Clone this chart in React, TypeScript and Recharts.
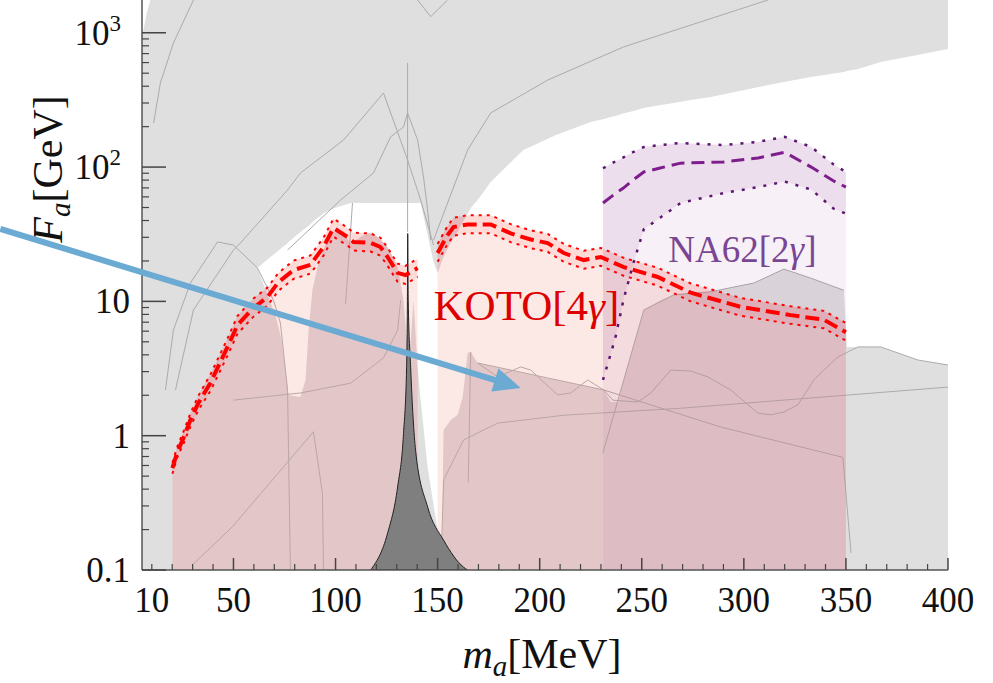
import {
  Area,
  CartesianGrid,
  ComposedChart,
  Label,
  Line,
  ReferenceDot,
  ReferenceLine,
  XAxis,
  YAxis,
} from "recharts";

const FONT = '"Liberation Serif", "Times New Roman", serif';
const F_FLOOR = 0.1;
const F_TOP = 1754;

// axis ticks
const xTicks = [10, 20, 30, 40, 50, 60, 70, 80, 90, 100, 110, 120, 130, 140, 150, 160, 170, 180, 190, 200, 210, 220, 230, 240, 250, 260, 270, 280, 290, 300, 310, 320, 330, 340, 350, 360, 370, 380, 390, 400];
const xLabeled = [10, 50, 100, 150, 200, 250, 300, 350, 400];
const yTicks = [0.1, 0.2, 0.3, 0.4, 0.5, 0.6, 0.7, 0.8, 0.9, 1, 2, 3, 4, 5, 6, 7, 8, 9, 10, 20, 30, 40, 50, 60, 70, 80, 90, 100, 200, 300, 400, 500, 600, 700, 800, 900, 1000];
const yMajor = [0.1, 1, 10, 100, 1000];

// KOTO[4gamma] projection, below the pion pole
const kotoMassLow = [20.1, 22.5, 25.5, 28.9, 32.8, 38.7, 47.1, 52, 59.8, 66.7, 72, 79.4, 87.7, 94.1, 99, 105.9, 108.8, 117.2, 122, 125.5, 130.4, 134.3, 140.2];
const kotoCentralLow = [0.574, 0.756, 0.96, 1.31, 1.75, 2.47, 4.58, 6.67, 8.93, 10.8, 13.9, 17.1, 18.7, 25.4, 35.2, 30.2, 27.7, 27.3, 25.4, 21.4, 16.3, 15.7, 17.7];
const kotoUpperLow = [0.63, 0.83, 1.07, 1.47, 1.98, 2.85, 5.3, 7.8, 10.5, 12.7, 16.3, 20.1, 22, 29.8, 41.3, 35.4, 32.5, 32, 29.8, 25.1, 19.1, 18.4, 20.8];
const kotoLowerLow = [0.52, 0.69, 0.87, 1.17, 1.55, 2.15, 3.95, 5.75, 7.7, 9.3, 12, 14.7, 16.1, 21.9, 30.3, 26, 23.9, 23.5, 21.9, 18.4, 14, 13.5, 15.2];

// KOTO[4gamma] projection, above the pion pole
const kotoMassHigh = [150, 154.9, 157.8, 164.7, 176, 185.8, 195.6, 203.9, 211.8, 221.6, 229.9, 241.2, 257.8, 274, 298.5, 323, 339.2, 350];
const kotoCentralHigh = [22.9, 31.2, 35.8, 37.4, 37.4, 32.1, 28.9, 27.2, 22.9, 20.3, 21.4, 18, 15.2, 11.6, 9.1, 7.9, 7.3, 5.9];
const kotoUpperHigh = [26.8, 36.5, 41.9, 43.8, 43.8, 37.6, 33.8, 31.8, 26.8, 23.8, 25, 21.1, 17.8, 13.6, 10.6, 9.2, 8.5, 6.9];
const kotoLowerHigh = [19.7, 26.8, 30.8, 32.2, 32.2, 27.6, 24.9, 23.4, 19.7, 17.5, 18.4, 15.5, 13.1, 10, 7.8, 6.8, 6.3, 5.1];

// NA62[2gamma]
const na62Mass = [231, 237, 241, 246, 251, 259, 269, 290, 307, 320, 333, 344, 350];
const na62Central = [54, 63.5, 69.8, 80.7, 92, 98.4, 107, 109, 117, 129, 100, 78.7, 71];
const na62Upper = [98, 110, 118, 130, 141, 146, 151, 146, 154, 168, 141, 104.5, 92];
const na62Lower = [2.6, 5.3, 10.2, 19.5, 34.5, 42, 54, 64, 71, 78, 68, 49, 45];

// unconstrained window: [mass, lower edge, upper edge]
const allowedWindow = [
  [61.8, 17.7, 17.7], [65.7, 12.2, 20.0], [70.6, 7.9, 22.9], [73.5, 5.2, 25.0],
  [75.5, 3.1, 26.3], [77, 2.0, 27.7], [82.8, 1.94, 32.9], [85.3, 2.6, 35.2],
  [86.8, 6.1, 36.4], [88.7, 12.2, 39.0], [91.7, 19.7, 42.5], [95.1, 26.3, 46.3],
  [101, 35.2, 50.5], [107.4, 27.2, 54], [113, 30.7, 54], [118, 32.9, 54],
  [125.5, 25.4, 54], [130.4, 18.0, 54], [133.3, 10.2, 54], [135.3, 4.35, 54],
  [136.8, 5, 54], [138.2, 10.2, 54], [140.2, 3.25, 54], [141.7, 1.84, 54],
  [145.1, 0.585, 31.2], [148, 0.305, 19.7], [150, 0.2, 16.3], [150.5, 0.1, 17],
  [152, 0.1, 19.7], [152.9, 1.1, 21.4], [156.4, 1.31, 27.2], [159.8, 1.43, 32.9],
  [162.3, 1.94, 39.0], [164.7, 4.13, 44.8], [166.2, 4.2, 49.6], [169.6, 3.48, 56.9],
  [176, 3.3, 77.5], [192, 2.93, 134], [208, 2.6, 173], [225, 2.3, 217],
  [231.4, 2.19, 228], [234.8, 1.78, 236], [238.7, 1.78, 244], [240.2, 2.3, 249],
  [246, 4.74, 262], [251, 8.63, 275], [259.3, 10.2, 290], [265.7, 11.2, 300],
  [274, 11.6, 316], [283.8, 11.8, 333], [304.9, 13.7, 388], [319.6, 17.4, 430],
  [332.8, 14.9, 469], [349, 12.1, 511], [350.5, 4.58, 519], [355.9, 4.58, 538],
  [367, 4.58, 606], [385, 3.66, 683], [400, 3.36, 758],
];
const allowedCorner = [[5.2, 950, 1754], [5.9, 1050, 1754], [7.5, 1400, 1754], [9.3, 1754, 1754]];

// pi0 pole
const pionPole = [[117.2, 0.1], [125.5, 0.188], [130.4, 0.415], [133.3, 1.04], [134.8, 3.2], [135.2, 10.2], [135.35, 32], [135.6, 10.2], [136.8, 3.2], [139.2, 0.78], [145.1, 0.295], [152.9, 0.167], [162.7, 0.105], [164.7, 0.1]];

// outlines of the individual existing limits
const edges = [
  [[10.9, 213], [14.2, 423], [20.6, 839], [30.4, 1754]],
  [[21.6, 2.19], [30.4, 8.63], [50, 24.1], [53.4, 27.2], [76.5, 67.5], [82.8, 90.4], [103.9, 159], [123.5, 356], [135.3, 113], [141.7, 56.9], [148, 26.3]],
  [[76.5, 24.1], [102.5, 56.9], [118.6, 90.4], [127, 168], [133.3, 199], [135.3, 253], [140.2, 159], [143.1, 84.4], [145.1, 48], [146.6, 28.6]],
  [[16.7, 2.19], [20.6, 6.12], [28.9, 13.7], [42.2, 27.7], [50, 26.3], [61.8, 17.7], [69.6, 10.2], [73, 6.9], [76.5, 2.19], [77.9, 0.1]],
  [[140.2, 1754], [146.6, 1318], [154.9, 1754]],
  [[148, 28.6], [164.7, 134], [176, 253], [204, 445], [241, 784], [311.8, 1754]],
  [[135.3, 596], [135.3, 33]],
  [[108.3, 54], [104.9, 9.5]],
  [[29.9, 0.109], [49.5, 0.21], [89.2, 1.07], [93.6, 0.37], [94.1, 0.1]],
  [[50, 1.84], [82.8, 2.08], [107.4, 2.46], [123.5, 3.8], [130.4, 6.1], [131.9, 10.2]],
  [[151.5, 0.1], [153, 0.47], [162.7, 0.93], [179.4, 1.24], [211.8, 1.42], [269, 1.6], [400, 2.3]],
  [[169.6, 3.48], [231.4, 2.19], [288.7, 1.16], [348.5, 0.69], [352.5, 0.134]],
  [[169.6, 3.48], [179.4, 2.74], [190.7, 3.25], [195.6, 3.08], [208.8, 2.01], [215.2, 2.08], [223.5, 2.6], [231.4, 2.19], [235.8, 1.84], [248, 1.78], [254.4, 2.08], [264.2, 3.08], [274, 3.03], [282.4, 2.74], [293.6, 2.19], [306.9, 1.47], [313.2, 1.43], [319.6, 1.5], [326.5, 1.7], [334.3, 2.6], [339.2, 3.08], [346, 3.85], [355.9, 4.58], [367, 4.58], [385.3, 3.66], [400, 3.36]],
  [[230.9, 0.74], [251, 8.63], [265.7, 11.2], [283.8, 11.8], [304.9, 13.7], [319.6, 17.4], [332.8, 14.9], [349, 12.1]],
  [[166.2, 4.2], [165, 0.45]],
];

const bandRows = (mass: number[], central: number[], upper: number[], lower: number[]) =>
  mass.map((x, i) => ({
    x,
    c: central[i],
    u: upper[i],
    l: lower[i],
    whole: [F_FLOOR, upper[i]],
    under: [F_FLOOR, lower[i]],
    band: [lower[i], upper[i]],
  }));

const kotoLow = bandRows(kotoMassLow, kotoCentralLow, kotoUpperLow, kotoLowerLow);
const kotoHigh = bandRows(kotoMassHigh, kotoCentralHigh, kotoUpperHigh, kotoLowerHigh);
const na62 = bandRows(na62Mass, na62Central, na62Upper, na62Lower);
const windowRows = allowedWindow.map(([x, lo, hi]) => ({ x, range: [lo, hi] }));
const cornerRows = allowedCorner.map(([x, lo, hi]) => ({ x, range: [lo, hi] }));
const poleRows = pionPole.map(([x, f]) => ({ x, range: [F_FLOOR, f], f }));
const edgeRows = edges.map((pts) => pts.map(([x, f]) => ({ x, f })));

const isMajorY = (v: number) => yMajor.includes(v);

const LeftTick = ({ x, y, payload }: any) => {
  const v = payload.value;
  const major = isMajorY(v);
  const e = Math.round(Math.log10(v));
  return (
    <g>
      <line x1={x} x2={x + (major ? 24 : 7)} y1={y} y2={y} stroke="#444" strokeWidth={major ? 1.5 : 1.2} />
      {major && e >= 2 && (
        <text x={x - 21} y={y + 12} textAnchor="end" fontFamily={FONT} fontSize={35} fill="#111">
          10
          <tspan dy={-14} fontSize={23}>
            {e}
          </tspan>
        </text>
      )}
      {major && e < 2 && (
        <text x={x - 12} y={y + 12} textAnchor="end" fontFamily={FONT} fontSize={35} fill="#111">
          {String(v)}
        </text>
      )}
    </g>
  );
};

const RightTick = ({ x, y, payload }: any) => {
  const major = isMajorY(payload.value);
  return <line x1={x} x2={x - (major ? 25 : 8)} y1={y} y2={y} stroke="#444" strokeWidth={major ? 1.5 : 1.2} />;
};

const BottomTick = ({ x, y, payload }: any) => {
  const v = payload.value;
  const major = v % 50 === 0;
  return (
    <g>
      <line x1={x} x2={x} y1={y} y2={y - (major ? 12 : 6)} stroke="#444" strokeWidth={major ? 1.5 : 1.2} />
      {xLabeled.includes(v) && (
        <text x={x} y={y + 42} textAnchor="middle" fontFamily={FONT} fontSize={35} fill="#111">
          {v}
        </text>
      )}
    </g>
  );
};

const XTitle = ({ viewBox }: any) => (
  <text x={viewBox.x + viewBox.width / 2 - 3} y={viewBox.y + 98} textAnchor="middle" fontFamily={FONT} fontSize={42} fill="#111">
    <tspan fontStyle="italic">m</tspan>
    <tspan fontStyle="italic" fontSize={29} dy={8}>a</tspan>
    <tspan dy={-8}>[MeV]</tspan>
  </text>
);

const YTitle = ({ viewBox }: any) => {
  const cx = viewBox.x + 62;
  const cy = viewBox.y + 169;
  return (
    <text x={cx} y={cy} transform={`rotate(-90 ${cx} ${cy})`} textAnchor="middle" fontFamily={FONT} fontSize={42} fill="#111">
      <tspan fontStyle="italic">F</tspan>
      <tspan fontStyle="italic" fontSize={29} dy={8}>a</tspan>
      <tspan dy={-8}>[GeV]</tspan>
    </text>
  );
};

const Arrow = ({ x1, y1, x2, y2 }: any) => {
  const len = Math.hypot(x2 - x1, y2 - y1);
  const ux = (x2 - x1) / len;
  const uy = (y2 - y1) / len;
  const bx = x2 - ux * 27;
  const by = y2 - uy * 27;
  const half = 12;
  return (
    <g>
      <line x1={x1} y1={y1} x2={bx + ux * 2} y2={by + uy * 2} stroke="#6aaad3" strokeWidth={6} />
      <polygon points={`${x2},${y2} ${bx - uy * half},${by + ux * half} ${bx + uy * half},${by - ux * half}`} fill="#6aaad3" />
    </g>
  );
};

const noDot = { dot: false, activeDot: false, isAnimationActive: false } as const;

export default function App() {
  return (
    <div style={{ position: "absolute", left: 0, top: 0, width: 993, height: 683, background: "#fff" }}>
      <ComposedChart width={993} height={683} margin={{ top: 0, right: 45, bottom: 0, left: 0 }}>
        <CartesianGrid yAxisId="l" horizontal={false} vertical={false} fill="#dfdfdf" fillOpacity={1} />
        <XAxis
          type="number"
          dataKey="x"
          domain={[5.2, 400]}
          allowDataOverflow
          ticks={xTicks}
          interval={0}
          tick={BottomTick}
          tickLine={false}
          tickSize={0}
          tickMargin={0}
          height={113}
          axisLine={{ stroke: "#555", strokeWidth: 1.5 }}
        >
          <Label content={XTitle} />
        </XAxis>
        <YAxis
          yAxisId="l"
          type="number"
          scale="log"
          domain={[F_FLOOR, F_TOP]}
          allowDataOverflow
          ticks={yTicks}
          interval={0}
          tick={LeftTick}
          tickLine={false}
          tickSize={0}
          tickMargin={0}
          width={142}
          axisLine={{ stroke: "#555", strokeWidth: 1.5 }}
        >
          <Label content={YTitle} />
        </YAxis>
        <YAxis
          yAxisId="r"
          orientation="right"
          type="number"
          scale="log"
          domain={[F_FLOOR, F_TOP]}
          allowDataOverflow
          ticks={yTicks}
          interval={0}
          tick={RightTick}
          tickLine={false}
          tickSize={0}
          tickMargin={0}
          width={0}
          axisLine={{ stroke: "#555", strokeWidth: 1.5 }}
        />

        {/* tint of the excluded region lying under the KOTO projection */}
        <Area yAxisId="l" data={kotoLow} dataKey="whole" type="linear" fill="#dfd5dc" fillOpacity={1} stroke="none" {...noDot} />
        <Area yAxisId="l" data={kotoHigh} dataKey="whole" type="linear" fill="#dfd5dc" fillOpacity={1} stroke="none" {...noDot} />

        {/* allowed (white) parameter space */}
        <Area yAxisId="l" data={windowRows} dataKey="range" type="linear" fill="#ffffff" fillOpacity={1} stroke="none" {...noDot} />
        <Area yAxisId="l" data={cornerRows} dataKey="range" type="linear" fill="#ffffff" fillOpacity={1} stroke="none" {...noDot} />

        {/* outlines of existing limits */}
        {edgeRows.map((rows, i) => (
          <Area key={`edge-${i}`} yAxisId="l" data={rows} dataKey="f" type="linear" fill="none" stroke="#ababab" strokeWidth={1} {...noDot} />
        ))}

        {/* KOTO shading */}
        <Area yAxisId="l" data={kotoLow} dataKey="under" type="linear" fill="#f19684" fillOpacity={0.22} stroke="none" {...noDot} />
        <Area yAxisId="l" data={kotoLow} dataKey="band" type="linear" fill="#ff4a3a" fillOpacity={0.2} stroke="none" {...noDot} />
        <Area yAxisId="l" data={kotoHigh} dataKey="under" type="linear" fill="#f19684" fillOpacity={0.22} stroke="none" {...noDot} />
        <Area yAxisId="l" data={kotoHigh} dataKey="band" type="linear" fill="#ff4a3a" fillOpacity={0.2} stroke="none" {...noDot} />

        {/* NA62 shading */}
        <Area yAxisId="l" data={na62} dataKey="under" type="linear" fill="#8c3c8c" fillOpacity={0.07} stroke="none" {...noDot} />
        <Area yAxisId="l" data={na62} dataKey="band" type="linear" fill="#8c3c8c" fillOpacity={0.17} stroke="none" {...noDot} />

        {/* pion pole */}
        <Area yAxisId="l" data={poleRows} dataKey="range" type="monotone" fill="#7f7f7f" fillOpacity={1} stroke="#222" strokeWidth={1} {...noDot} />

        {/* KOTO lines */}
        <Line yAxisId="l" data={kotoLow} dataKey="u" type="linear" stroke="#ff0000" strokeWidth={2} strokeDasharray="3 5" {...noDot} />
        <Line yAxisId="l" data={kotoLow} dataKey="l" type="linear" stroke="#ff0000" strokeWidth={2} strokeDasharray="3 5" {...noDot} />
        <Line yAxisId="l" data={kotoLow} dataKey="c" type="linear" stroke="#ff0000" strokeWidth={4} strokeDasharray="14 6" {...noDot} />
        <Line yAxisId="l" data={kotoHigh} dataKey="u" type="linear" stroke="#ff0000" strokeWidth={2} strokeDasharray="3 5" {...noDot} />
        <Line yAxisId="l" data={kotoHigh} dataKey="l" type="linear" stroke="#ff0000" strokeWidth={2} strokeDasharray="3 5" {...noDot} />
        <Line yAxisId="l" data={kotoHigh} dataKey="c" type="linear" stroke="#ff0000" strokeWidth={4} strokeDasharray="14 6" {...noDot} />

        {/* NA62 lines */}
        <Line yAxisId="l" data={na62} dataKey="u" type="linear" stroke="#5c1670" strokeWidth={2.5} strokeDasharray="3 8" {...noDot} />
        <Line yAxisId="l" data={na62} dataKey="l" type="linear" stroke="#5c1670" strokeWidth={2.5} strokeDasharray="3 8" {...noDot} />
        <Line yAxisId="l" data={na62} dataKey="c" type="linear" stroke="#7e1e8c" strokeWidth={3} strokeDasharray="13 7" {...noDot} />

        <ReferenceDot
          yAxisId="l"
          x={148}
          y={7.3}
          r={0}
          ifOverflow="visible"
          zIndex={2000}
          shape={(p: any) => (
            <text x={p.cx} y={p.cy} fontFamily={FONT} fontSize={43} fill="#dd0000">
              KOTO[4<tspan fontStyle="italic">γ</tspan>]
            </text>
          )}
        />
        <ReferenceDot
          yAxisId="l"
          x={263}
          y={19.7}
          r={0}
          ifOverflow="visible"
          zIndex={2000}
          shape={(p: any) => (
            <text x={p.cx} y={p.cy} fontFamily={FONT} fontSize={37} fill="#7a4592">
              NA62[2<tspan fontStyle="italic">γ</tspan>]
            </text>
          )}
        />
        <ReferenceLine
          yAxisId="l"
          ifOverflow="visible"
          zIndex={2000}
          segment={[
            { x: -64.2, y: 34.6 },
            { x: 190.7, y: 2.27 },
          ]}
          shape={Arrow}
        />
      </ComposedChart>
    </div>
  );
}
